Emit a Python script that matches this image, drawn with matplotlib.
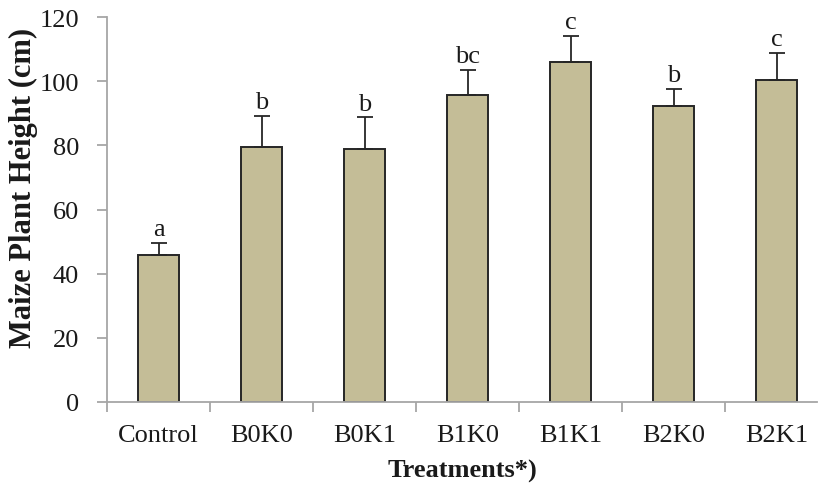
import matplotlib
matplotlib.use("Agg")
import matplotlib.pyplot as plt
from matplotlib.ticker import FixedLocator

# Maize plant height by treatment (mean, upper standard error, significance letters)
treatments = ["Control", "B0K0", "B0K1", "B1K0", "B1K1", "B2K0", "B2K1"]
height_mean = [45.9, 79.4, 78.9, 95.8, 105.9, 92.4, 100.3]
height_err = [3.8, 9.7, 9.8, 7.7, 8.3, 5.2, 8.5]
sig_letters = ["a", "b", "b", "bc", "c", "b", "c"]
y_ticks = [0, 20, 40, 60, 80, 100, 120]

plt.rcParams["font.family"] = ["Liberation Serif", "DejaVu Serif"]

fig = plt.figure(figsize=(8.18, 4.89), dpi=100)
W, H = 818, 489
left, right, bottom, top = 107, 817, 403, 18
ax = fig.add_axes([left / W, 1 - bottom / H, (right - left) / W, (bottom - top) / H])

x = list(range(len(treatments)))
ax.bar(x, height_mean, width=0.4, color="#c4bd97", edgecolor="#262626",
       linewidth=1.4, zorder=2)
ax.errorbar(x, height_mean, yerr=[[0] * len(x), height_err], fmt="none",
            ecolor="#262626", elinewidth=1.3, capsize=5.5, capthick=1.3, zorder=3)

for xi, m, e, s in zip(x, height_mean, height_err, sig_letters):
    ax.annotate(s, (xi, m + e), xytext=(0, 2), textcoords="offset points",
                ha="center", va="bottom", fontsize=19, color="#1a1a1a")

ax.set_xlim(-0.5, -0.5 + (right - left) / 103.0)
ax.set_ylim(0, 120)
ax.set_yticks(y_ticks)
ax.set_xticks(x)
ax.set_xticklabels(treatments)
ax.xaxis.set_minor_locator(FixedLocator([i - 0.5 for i in range(len(treatments) + 1)]))

for side in ("top", "right"):
    ax.spines[side].set_visible(False)
for side in ("left", "bottom"):
    ax.spines[side].set_color("#a6a6a6")
    ax.spines[side].set_linewidth(1.3)

ax.tick_params(axis="y", direction="out", length=7, width=1.3, color="#a6a6a6",
               labelsize=19, pad=13, labelcolor="#1a1a1a")
ax.tick_params(axis="x", which="major", length=0, labelsize=19, pad=16,
               labelcolor="#1a1a1a")
ax.tick_params(axis="x", which="minor", direction="out", length=7, width=1.3,
               color="#a6a6a6")

ax.set_xlabel("Treatments*)", fontsize=19, fontweight="bold", labelpad=9,
              color="#1a1a1a")
ax.set_ylabel("Maize Plant Height (cm)", fontsize=22, fontweight="bold",
              color="#1a1a1a")
ax.yaxis.set_label_coords(38 / W, 1 - 188 / H, transform=fig.transFigure)

fig.savefig("out.png", dpi=100)
